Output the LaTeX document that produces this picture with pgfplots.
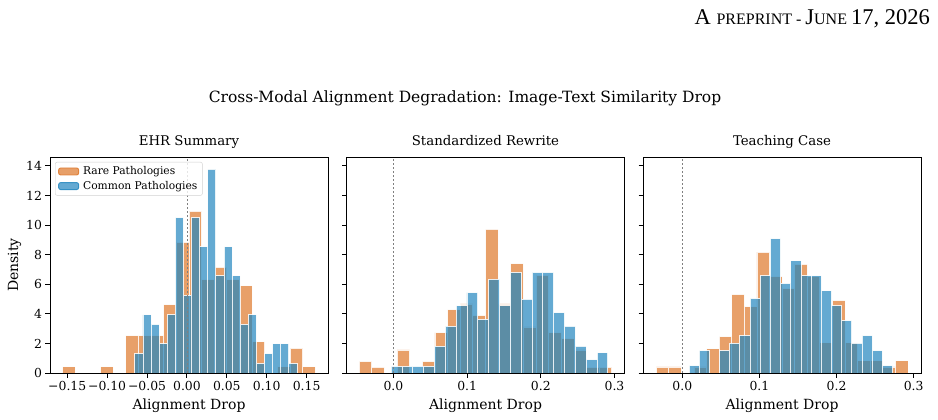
\documentclass[border=0pt]{standalone}
\usepackage{fontspec}
\setmainfont{DejaVu Serif}
\newfontfamily\hdrfont{Liberation Serif}
\usepackage{pgfplots}
\pgfplotsset{compat=1.18}
\definecolor{rareC}{HTML}{DE7729}
\definecolor{commC}{HTML}{2286BF}
\pgfplotsset{
  panel/.style={
    scale only axis, width=278bp, height=216bp,
    ymin=0, ymax=14.6,
    axis on top,
    tick align=outside, tick pos=left,
    major tick length=4.5bp,
    axis line style={line width=0.9bp},
    every tick/.style={black, line width=0.9bp},
    ytick={0,2,4,6,8,10,12,14},
    tick label style={font=\fontsize{12.4bp}{14bp}\selectfont},
    title style={font=\fontsize{13.3bp}{15bp}\selectfont, at={(axis description cs:0.5,1.0245)}, anchor=base},
    xlabel style={font=\fontsize{14bp}{16bp}\selectfont, at={(axis description cs:0.5,-0.171)}, anchor=base},
    ylabel style={font=\fontsize{14bp}{16bp}\selectfont, at={(axis description cs:-0.115,0.5)}, anchor=base, rotate=0},
    xlabel={Alignment Drop},
  },
  rare/.style={ybar interval, fill=rareC, fill opacity=0.7, draw=white, draw opacity=0.85, line width=0.9bp,
    legend image code/.code={\fill[rareC, fill opacity=0.7] (0bp,-3.5bp) rectangle (20bp,3.5bp);}},
  comm/.style={ybar interval, fill=commC, fill opacity=0.7, draw=white, draw opacity=0.85, line width=0.9bp,
    legend image code/.code={\fill[commC, fill opacity=0.7] (0bp,-3.5bp) rectangle (20bp,3.5bp);}},
  zline/.style={gray, line width=0.7bp, dash pattern=on 2.5bp off 1.5bp, forget plot},
}
\begin{document}
\begin{tikzpicture}
\path (0,0) rectangle (938bp,-420bp);
\node[anchor=base east, font=\hdrfont, inner sep=0pt] at (930bp,-24bp) {\fontsize{22.5bp}{26bp}\selectfont A \fontsize{16bp}{19bp}\selectfont PREPRINT - \fontsize{22.5bp}{26bp}\selectfont J\fontsize{16bp}{19bp}\selectfont UNE \fontsize{22.5bp}{26bp}\selectfont 17, 2026};
\node[anchor=base, font=\fontsize{15.5bp}{18bp}\selectfont] at (465bp,-102bp) {Cross-Modal Alignment Degradation: Image-Text Similarity Drop};

% Panel 1
\begin{axis}[panel, at={(50bp,-373bp)}, anchor=south west,
  title={EHR Summary}, ylabel={Density},
  xmin=-0.1716, xmax=0.1768,
  xtick={-0.15,-0.10,-0.05,0,0.05,0.10,0.15},
  xticklabels={−0.15,−0.10,−0.05,0.00,0.05,0.10,0.15},
  yticklabels={0,2,4,6,8,10,12,14},
  legend style={at={(axis description cs:0.018,0.977)}, anchor=north west, draw=black!18, rounded corners=2bp,
    fill=white, fill opacity=0.8, text opacity=1, font=\fontsize{10.7bp}{12bp}\selectfont,
    inner xsep=3bp, inner ysep=2.5bp, row sep=1bp, column sep=2bp, cells={anchor=west}},
  legend cell align=left]
\addplot[rare] coordinates {(-0.1558,0.421) (-0.1400,0) (-0.1241,0) (-0.1083,0.421) (-0.0924,0) (-0.0766,2.525) (-0.0608,2.525) (-0.0449,2.525) (-0.0291,4.630) (-0.0132,8.839) (0.0026,10.943) (0.0184,6.314) (0.0343,7.155) (0.0501,6.314) (0.0660,5.892) (0.0818,2.105) (0.0976,0) (0.1135,0.421) (0.1293,1.684) (0.1452,0.421) (0.1610,0)};
\addlegendentry{Rare Pathologies}
\addplot[comm] coordinates {(-0.0653,1.312) (-0.0551,3.937) (-0.0450,3.281) (-0.0348,1.969) (-0.0247,3.937) (-0.0145,10.499) (-0.0043,5.250) (0.0058,10.499) (0.0160,8.531) (0.0261,13.780) (0.0363,6.562) (0.0465,8.531) (0.0566,6.562) (0.0668,3.281) (0.0769,3.937) (0.0871,0.656) (0.0973,1.312) (0.1074,1.969) (0.1176,1.969) (0.1277,0.656) (0.1379,0)};
\addlegendentry{Common Pathologies}
\addplot[zline] coordinates {(0,0) (0,14.6)};
\end{axis}

% Panel 2
\begin{axis}[panel, at={(346.5bp,-373bp)}, anchor=south west,
  title={Standardized Rewrite},
  xmin=-0.0637, xmax=0.3136,
  xtick={0,0.1,0.2,0.3}, xticklabels={0.0,0.1,0.2,0.3},
  yticklabels={}]
\addplot[rare] coordinates {(-0.0465,0.778) (-0.0294,0.389) (-0.0122,0) (0.0049,1.555) (0.0221,0) (0.0392,0.778) (0.0564,2.722) (0.0735,4.277) (0.0907,4.666) (0.1078,3.888) (0.1250,9.720) (0.1421,4.666) (0.1592,7.387) (0.1764,3.110) (0.1935,6.610) (0.2107,2.722) (0.2278,2.333) (0.2450,1.555) (0.2621,0.389) (0.2793,0.389) (0.2964,0)};
\addplot[comm] coordinates {(-0.0031,0.453) (0.0116,0.453) (0.0263,0.453) (0.0410,0.453) (0.0557,1.814) (0.0704,3.174) (0.0851,4.534) (0.0998,5.441) (0.1145,3.627) (0.1292,6.348) (0.1440,4.534) (0.1587,6.801) (0.1734,4.987) (0.1881,6.801) (0.2028,6.801) (0.2175,4.081) (0.2322,3.174) (0.2469,1.814) (0.2616,0.907) (0.2763,1.360) (0.2910,0)};
\addplot[zline] coordinates {(0,0) (0,14.6)};
\end{axis}

% Panel 3
\begin{axis}[panel, at={(643bp,-373bp)}, anchor=south west,
  title={Teaching Case},
  xmin=-0.051, xmax=0.3095,
  xtick={0,0.1,0.2,0.3}, xticklabels={0.0,0.1,0.2,0.3},
  yticklabels={}]
\addplot[rare] coordinates {(-0.0338,0.409) (-0.0175,0.409) (-0.0012,0) (0.0152,0.409) (0.0315,1.634) (0.0478,2.451) (0.0641,5.311) (0.0804,4.494) (0.0968,8.170) (0.1131,6.536) (0.1294,5.719) (0.1457,7.353) (0.1620,6.536) (0.1784,2.043) (0.1947,4.902) (0.2110,2.043) (0.2273,0.817) (0.2436,0.817) (0.2600,0.409) (0.2763,0.817) (0.2926,0)};
\addplot[comm] coordinates {(0.0087,0.505) (0.0219,1.515) (0.0351,0) (0.0483,1.515) (0.0615,2.020) (0.0747,2.525) (0.0879,5.051) (0.1011,6.566) (0.1143,9.091) (0.1275,6.061) (0.1407,7.576) (0.1539,6.566) (0.1671,6.566) (0.1803,5.556) (0.1935,4.546) (0.2067,3.535) (0.2199,2.020) (0.2331,2.525) (0.2463,1.515) (0.2595,0.505) (0.2727,0)};
\addplot[zline] coordinates {(0,0) (0,14.6)};
\end{axis}
\end{tikzpicture}
\end{document}
